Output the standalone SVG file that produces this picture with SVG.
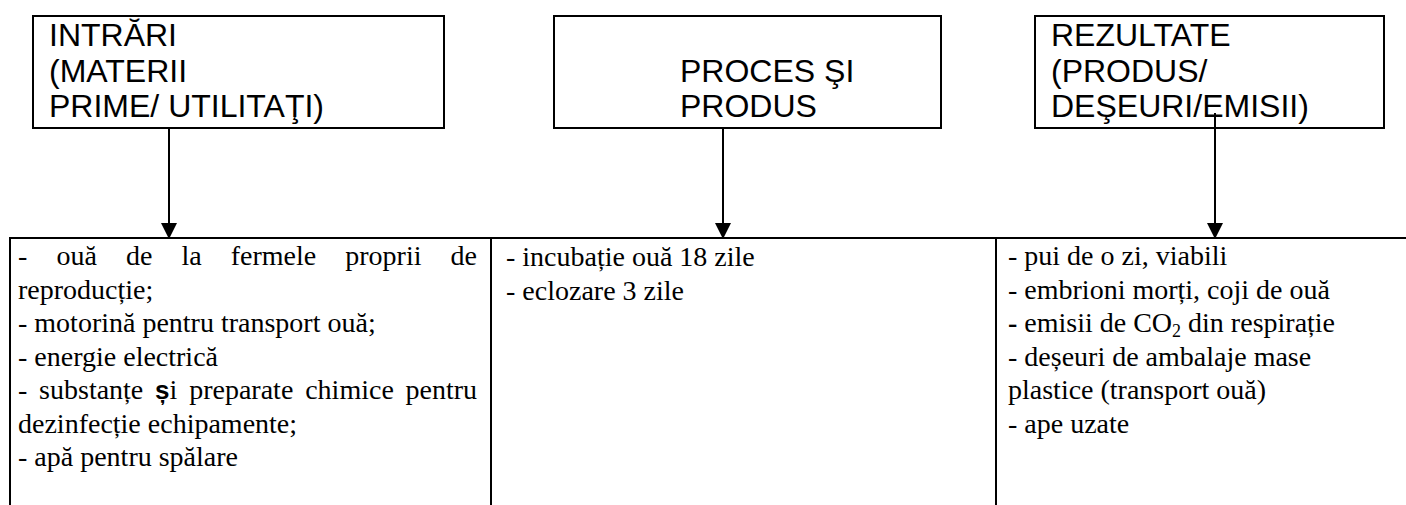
<svg xmlns="http://www.w3.org/2000/svg" width="1406" height="505" viewBox="0 0 1406 505">
<style>
.box{fill:#fff;stroke:#000;stroke-width:2}
.hd{font-family:"Liberation Sans",Arial,sans-serif;font-size:32px;fill:#000}
.tx{font-family:"Liberation Serif","Times New Roman",serif;font-size:28px;fill:#000}
.ln{stroke:#000;stroke-width:2;fill:none}
.b{font-weight:bold}
</style>
<defs>
<marker id="ah" markerUnits="userSpaceOnUse" markerWidth="16" markerHeight="16" refX="16" refY="8" orient="auto">
<path d="M0,0 L16,8 L0,16 Z" fill="#000"/>
</marker>
</defs>
<rect width="1406" height="505" fill="#fff"/>
<g id="node-intrari">
<rect class="box" x="33" y="16" width="411" height="112"/>
<text class="hd" x="49" y="46">INTRĂRI</text>
<text class="hd" x="49" y="82">(MATERII</text>
<text class="hd" x="49" y="117">PRIME/ UTILITAŢI)</text>
</g>
<g id="node-proces">
<rect class="box" x="554" y="16" width="387" height="112"/>
<text class="hd" x="680" y="82">PROCES ŞI</text>
<text class="hd" x="680" y="117">PRODUS</text>
</g>
<g id="node-rezultate">
<rect class="box" x="1035" y="16" width="349" height="112"/>
<text class="hd" x="1051" y="46">REZULTATE</text>
<text class="hd" x="1051" y="82">(PRODUS/</text>
<text class="hd" x="1051" y="117">DEŞEURI/EMISII)</text>
</g>
<g id="table">
<line class="ln" x1="10" y1="238" x2="1406" y2="238"/>
<line class="ln" x1="10" y1="237" x2="10" y2="505"/>
<line class="ln" x1="491" y1="237" x2="491" y2="505"/>
<line class="ln" x1="996" y1="237" x2="996" y2="505"/>
</g>
<g id="node-col-intrari" class="tx">
<text x="18" y="265">-</text>
<text x="56.4" y="265">ouă</text>
<text x="125.9" y="265">de</text>
<text x="181.4" y="265">la</text>
<text x="230.7" y="265">fermele</text>
<text x="345.3" y="265">proprii</text>
<text x="477" y="265" text-anchor="end">de</text>
<text x="18" y="298.5">reproducție;</text>
<text x="18" y="332">- motorină pentru transport ouă;</text>
<text x="18" y="365.5">- energie electrică</text>
<text x="18" y="399">-</text>
<text x="39.1" y="399">substanțe</text>
<text x="155.1" y="399"><tspan class="b" font-family="Liberation Sans, Arial, sans-serif" font-size="26">ș</tspan>i</text>
<text x="189.2" y="399">preparate</text>
<text x="305.2" y="399">chimice</text>
<text x="477" y="399" text-anchor="end">pentru</text>
<text x="18" y="432.5">dezinfecție echipamente;</text>
<text x="18" y="466">- apă pentru spălare</text>
</g>
<g id="node-col-proces" class="tx">
<text x="506" y="266">- incubație ouă 18 zile</text>
<text x="506" y="299.5">- eclozare 3 zile</text>
</g>
<g id="node-col-rezultate" class="tx">
<text x="1008" y="265">- pui de o zi, viabili</text>
<text x="1008" y="298.5">- embrioni morți, coji de ouă</text>
<text x="1008" y="332"><tspan class="b">-</tspan> emisii de CO<tspan font-size="18" dy="5">2</tspan><tspan dy="-5"> din respirație</tspan></text>
<text x="1008" y="365.5">- deșeuri de ambalaje mase</text>
<text x="1008" y="399">plastice (transport ouă)</text>
<text x="1008" y="432.5">- ape uzate</text>
</g>
<g id="connectors">
<line class="ln" x1="169" y1="128" x2="169" y2="239" marker-end="url(#ah)"/>
<line class="ln" x1="723" y1="128" x2="723" y2="239" marker-end="url(#ah)"/>
<line class="ln" x1="1215" y1="113" x2="1215" y2="239" marker-end="url(#ah)"/>
</g>
</svg>
